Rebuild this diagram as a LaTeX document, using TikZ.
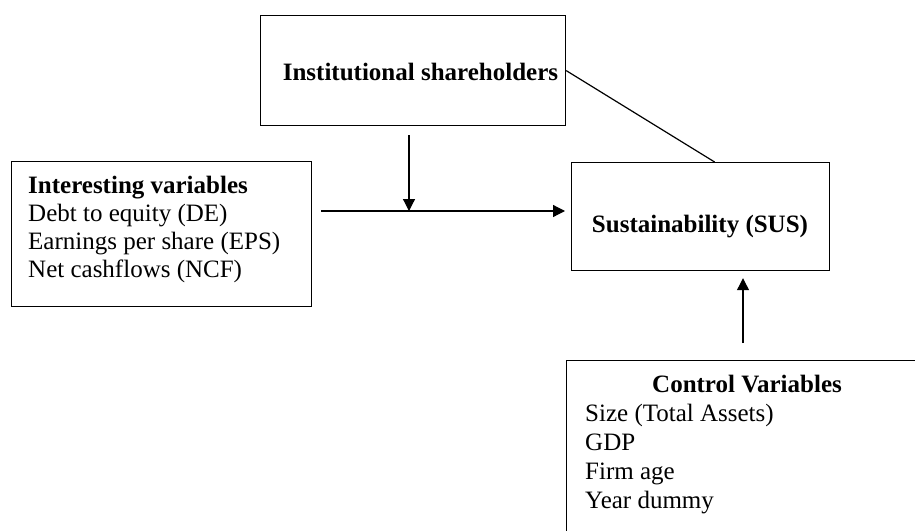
\documentclass[tikz,border=0pt]{standalone}
\usepackage{fontspec}
\setmainfont{Liberation Serif}
\usetikzlibrary{arrows.meta,calc}
\begin{document}
\begin{tikzpicture}[x=1pt,y=-1pt,
  box/.style={draw,line width=1.2pt,inner sep=0pt,anchor=north west},
  txt/.style={inner sep=0pt,font=\fontsize{25}{28}\selectfont},
  bt/.style={inner sep=0pt,font=\fontsize{25}{28}\selectfont\bfseries},
  conn/.style={line width=1.2pt},
  arr/.style={conn,-{Triangle[length=12pt,width=12pt]}}]
\useasboundingbox (0,0) rectangle (915,530);
\clip (0,0) rectangle (915,530);
% boxes
\node[box,minimum width=305pt,minimum height=110pt] (inst) at (260,15) {};
\node[box,minimum width=300pt,minimum height=145pt] (intv) at (11,161) {};
\node[box,minimum width=258pt,minimum height=108pt] (sus) at (571,162) {};
\node[box,minimum width=360pt,minimum height=190pt] (ctrl) at (566,360) {};
% texts
\node[bt,anchor=base] (instt) at (420.5,80) {Institutional shareholders};
\node[bt,anchor=base] (sust) at (700,232) {Sustainability (SUS)};
\node[bt,anchor=base west] (i1) at (28,193) {Interesting variables};
\node[txt,anchor=base west] (i2) at (28,221) {Debt to equity (DE)};
\node[txt,anchor=base west] (i3) at (28,249) {Earnings per share (EPS)};
\node[txt,anchor=base west] (i4) at (28,277) {Net cashflows (NCF)};
\node[bt,anchor=base] (c1) at (747,392) {Control Variables};
\node[txt,anchor=base west] (c2) at (585,421) {Size (Total Assets)};
\node[txt,anchor=base west] (c3) at (585,450) {GDP};
\node[txt,anchor=base west] (c4) at (585,479) {Firm age};
\node[txt,anchor=base west] (c5) at (585,508) {Year dummy};
% connectors
\coordinate (h0) at (321,211);
\draw[arr,shorten >=6pt] (h0) -- (h0 -| sus.west);
\coordinate (v0) at (409,135);
\draw[arr] (v0) -- (v0 |- h0);
\coordinate (u0) at (743,343);
\draw[arr,shorten >=7pt] (u0) -- (u0 |- sus.south);
\coordinate (c0) at ([xshift=14pt]sus.north);
\draw[conn] (inst.east) -- (c0);
\end{tikzpicture}
\end{document}
